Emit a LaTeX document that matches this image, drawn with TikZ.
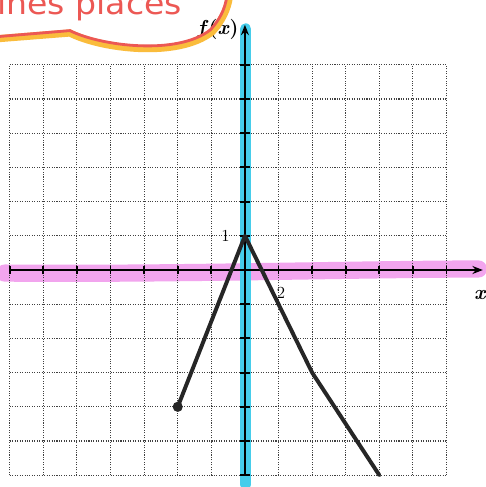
\documentclass[tikz,border=0pt]{standalone}
\usepackage{fontspec}
\usepackage{graphicx}
\usetikzlibrary{arrows.meta}
\definecolor{hlcyan}{RGB}{70,205,235}
\definecolor{hlpink}{RGB}{242,165,238}
\definecolor{cloudorange}{RGB}{250,188,60}
\definecolor{cloudred}{RGB}{236,88,84}
\newfontfamily\handfont{DejaVu Sans}

\begin{document}
\begin{tikzpicture}[x=0.84cm, y=0.855cm, every node/.style={font=\small}, >={Stealth[length=2.6mm, width=2mm]},
	gridline/.style={black!75, densely dotted, line width=0.75pt},
	axisline/.style={black, line width=1.3pt},
	curve/.style={black!85, line width=2.8pt, line cap=round, line join=round}]
	\clip (-7.29,-6.345) rectangle (7.17,7.895);
	\fill[white] (-7.29,-6.345) rectangle (7.17,7.895);
	\coordinate (peak) at (0,1);
	\coordinate (start) at (-2,-4);
	\coordinate (bend) at (2,-3);
	\coordinate (stop) at (4,-6);
	\coordinate (xaxL) at (-7,0);
	\coordinate (xaxR) at (7.08,0);
	\coordinate (yaxB) at (0,-6);
	\coordinate (yaxT) at (0,7.17);
	% highlighter strokes
	\draw[hlpink, line width=0.43cm, line cap=round] (-7.15,-0.09) .. controls (-2,-0.13) and (3,0.02) .. (6.95,0.03);
	\draw[hlcyan, line width=0.28cm, line cap=round] (0.02,7.05) -- (0.02,-6.28);
	% grid
	\foreach \i in {-7,...,6} \draw[gridline] (\i,-6) -- (\i,6);
	\foreach \j in {-6,...,6} \draw[gridline] (-7,\j) -- (6,\j);
	% axes
	\draw[axisline, ->] (xaxL) -- (xaxR);
	\draw[axisline, ->] (yaxB) -- (yaxT);
	\foreach \i in {-7,...,6} \draw[axisline] (\i,-0.13) -- (\i,0.13);
	\foreach \j in {-6,...,6} \draw[axisline] (-0.15,\j) -- (0.15,\j);
	\node[font=\Large] (fx) at (-0.8,7.03) {\textbf{\textit{f}(\textit{x})}};
	\node[font=\Large] (xl) at (7.0,-0.74) {\textbf{\textit{x}}};
	\node[font=\large] (one) at (-0.58,1.0) {1};
	\node[font=\large] (two) at (1.07,-0.66) {2};
	% the function
	\draw[curve] (start) -- (peak) -- (bend) -- (stop);
	\fill[black!85] (start) circle (0.15);
	% cloud
	\draw[cloudorange, line width=0.18cm, line cap=round] (-7.4,6.76) -- (-5.21,6.93) .. controls (-4.3,6.47) and (-2.0,6.17) .. (-0.97,6.97) .. controls (-0.7,7.27) and (-0.52,7.6) .. (-0.46,8.0);
	\draw[cloudred, line width=0.07cm] (-7.4,6.82) -- (-5.21,7.0) .. controls (-4.3,6.55) and (-2.0,6.26) .. (-1.02,7.03) .. controls (-0.76,7.32) and (-0.59,7.62) .. (-0.54,8.0);
	\node[anchor=base west, inner sep=0pt, text=cloudred] (note) at (-7.38,7.48) {\scalebox{1.07}[1]{\handfont\fontsize{22}{22}\selectfont ines places}};
\end{tikzpicture}
\end{document}
